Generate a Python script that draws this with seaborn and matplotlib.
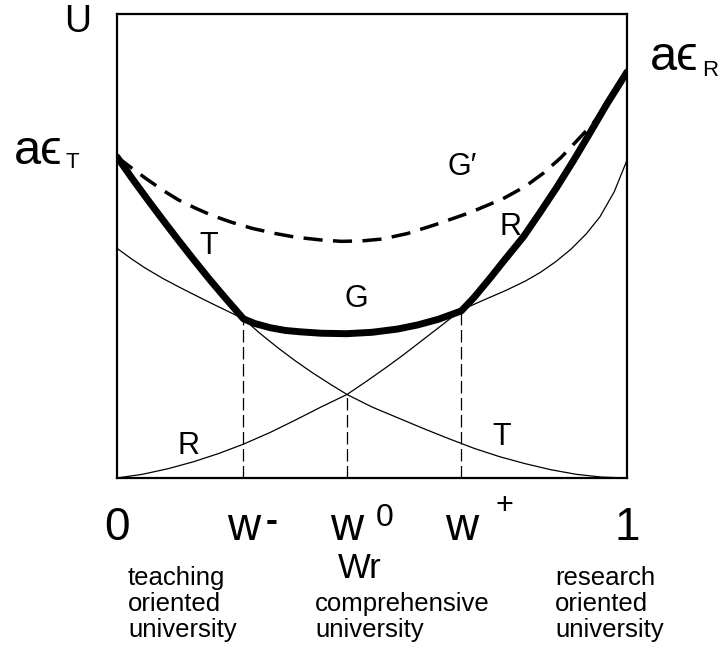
import matplotlib
matplotlib.use("Agg")
import matplotlib.pyplot as plt
import seaborn as sns
import pandas as pd

sns.set_theme(style="white")
plt.rcParams["font.family"] = ["Liberation Sans", "DejaVu Sans"]
plt.rcParams["text.color"] = "black"
plt.rcParams["xtick.color"] = "black"

# Positions of the three thresholds on the w_r axis
w_minus = 0.248
w_zero = 0.451
w_plus = 0.675
tick_pos = [0.0, w_minus, w_zero, w_plus, 1.0]
tick_text = ["0", "w", "w", "w", "1"]
tick_sup = ["", "-", "0", "+", ""]

# Thin curve T (teaching utility)
t_x = [0.0, 0.03, 0.056, 0.09, 0.121, 0.155, 0.186, 0.218, 0.248,
       0.28, 0.315, 0.349, 0.383, 0.417, 0.451, 0.50, 0.55, 0.60, 0.65,
       0.70, 0.75, 0.80, 0.85, 0.90, 0.95, 1.0]
t_y = [0.495, 0.471, 0.452, 0.430, 0.412, 0.393, 0.376, 0.359, 0.343,
       0.312, 0.281, 0.253, 0.227, 0.203, 0.180, 0.153, 0.130, 0.107, 0.085,
       0.064, 0.046, 0.031, 0.018, 0.008, 0.002, 0.0]

# Thin curve R (research utility)
r_x = [0.0, 0.05, 0.10, 0.15, 0.20, 0.248, 0.30, 0.35, 0.40, 0.451,
       0.49, 0.53, 0.561, 0.60, 0.64, 0.675, 0.72, 0.764, 0.80, 0.83,
       0.86, 0.89, 0.92, 0.947, 0.975, 1.0]
r_y = [0.0, 0.008, 0.020, 0.035, 0.053, 0.073, 0.098, 0.125, 0.153, 0.180,
       0.209, 0.240, 0.265, 0.298, 0.332, 0.362, 0.384, 0.405, 0.424, 0.443,
       0.466, 0.493, 0.526, 0.563, 0.617, 0.685]

# Thick envelope: T branch, G branch, R branch
g_x = [0.0, 0.03, 0.06, 0.09, 0.12, 0.15, 0.18, 0.21, 0.248,
       0.27, 0.30, 0.33, 0.36, 0.40, 0.45, 0.50, 0.55, 0.59, 0.63, 0.675,
       0.70, 0.731, 0.76, 0.797, 0.83, 0.862, 0.895, 0.927, 0.96, 1.0]
g_y = [0.692, 0.645, 0.600, 0.556, 0.513, 0.471, 0.430, 0.391, 0.343,
       0.333, 0.324, 0.318, 0.315, 0.312, 0.311, 0.314, 0.321, 0.330, 0.342, 0.360,
       0.389, 0.430, 0.470, 0.520, 0.573, 0.626, 0.684, 0.743, 0.805, 0.875]

# Dashed curve G'
gp_x = [0.0, 0.03, 0.056, 0.09, 0.121, 0.155, 0.186, 0.225, 0.265, 0.31,
        0.35, 0.40, 0.44, 0.48, 0.52, 0.57, 0.627, 0.692, 0.757, 0.80,
        0.836, 0.87, 0.901, 0.93, 0.955]
gp_y = [0.692, 0.667, 0.646, 0.620, 0.599, 0.581, 0.566, 0.551, 0.538, 0.527,
        0.519, 0.513, 0.510, 0.511, 0.515, 0.527, 0.547, 0.572, 0.602, 0.628,
        0.657, 0.690, 0.726, 0.760, 0.794]

# Heights of the vertical guides at w-, w0, w+
guide_x = [w_minus, w_zero, w_plus]
guide_top = [0.343, 0.180, 0.360]

W, H = 726, 648
fig = plt.figure(figsize=(W / 100, H / 100), dpi=100)
ax = fig.add_axes([117 / W, 1 - 478 / H, 510 / W, 464 / H])

def curve(xs, ys, **kw):
    df = pd.DataFrame({"x": xs, "y": ys})
    sns.lineplot(data=df, x="x", y="y", sort=False, estimator=None,
                 color="black", ax=ax, **kw)

curve(t_x, t_y, linewidth=0.9)
curve(r_x, r_y, linewidth=0.9)
curve(gp_x, gp_y, linewidth=2.5, dashes=False, linestyle=(0, (5.5, 3.0)))
curve(g_x, g_y, linewidth=5.0, solid_capstyle="round", solid_joinstyle="round")

ax.vlines(guide_x, 0, guide_top, colors="black", linewidth=0.9,
          linestyles=(0, (10, 3.6)))

ax.set_xlim(0, 1)
ax.set_ylim(0, 1)
ax.set_xlabel("")
ax.set_ylabel("")
ax.set_yticks([])
for s in ax.spines.values():
    s.set_visible(True)
    s.set_color("black")
    s.set_linewidth(1.6)

ax.set_xticks(tick_pos)
ax.set_xticklabels(tick_text, fontsize=33, color="black")
ax.tick_params(axis="x", length=0, pad=20, colors="black")

sup_style = {
    "-": dict(dx=20, dy=-31, size=26, weight="bold"),
    "0": dict(dx=27, dy=-29, size=23, weight="normal"),
    "+": dict(dx=31, dy=-20, size=22, weight="normal"),
}
for xv, s in zip(tick_pos, tick_sup):
    if not s:
        continue
    st = sup_style[s]
    ax.annotate(s, xy=(xv, 0), xycoords=("data", "axes fraction"),
                xytext=(st["dx"], st["dy"]), textcoords="offset points",
                ha="center", va="center", fontsize=st["size"],
                fontweight=st["weight"], annotation_clip=False, color="black")

# Curve labels
lab = dict(fontsize=22, ha="center", va="center", color="black")
ax.text(0.18, 0.50, "T", **lab)
ax.text(0.470, 0.385, "G", **lab)
ax.text(0.676, 0.671, "G\u2032", **lab)
ax.text(0.771, 0.542, "R", **lab)
ax.text(0.141, 0.068, "R", **lab)
ax.text(0.755, 0.089, "T", **lab)

# Axis annotations outside the box
def ftext(x, y, s, **kw):
    fig.text(x / W, 1 - y / H, s, color="black", **kw)

ftext(78, 22, "U", fontsize=27, ha="center", va="center")
ftext(62, 152, "a\u03f5", fontsize=35, ha="right", va="center")
ftext(65, 163, "T", fontsize=16, ha="left", va="center")
ftext(699, 58, "a\u03f5", fontsize=35, ha="right", va="center")
ftext(702, 70, "R", fontsize=16, ha="left", va="center")

ftext(360, 568, "Wr", fontsize=25, ha="center", va="center")
ftext(128, 566, "teaching\noriented\nuniversity", fontsize=18.5,
      ha="left", va="top", linespacing=1.1)
ftext(315, 592, "comprehensive\nuniversity", fontsize=18.5,
      ha="left", va="top", linespacing=1.1)
ftext(555, 566, "research\noriented\nuniversity", fontsize=18.5,
      ha="left", va="top", linespacing=1.1)

fig.savefig("out.png", dpi=100, facecolor="white")
